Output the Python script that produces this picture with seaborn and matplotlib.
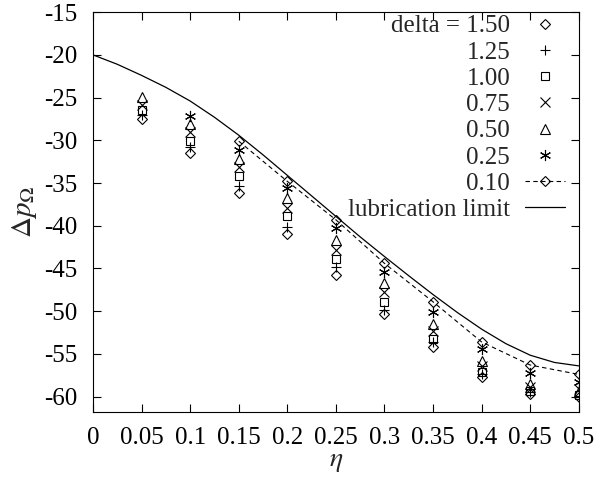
import numpy as np
import pandas as pd
import matplotlib
matplotlib.use("Agg")
import matplotlib.pyplot as plt
import seaborn as sns

sns.set_theme(style="ticks")
plt.rcParams["font.family"] = ["Liberation Serif", "DejaVu Serif"]
plt.rcParams["mathtext.fontset"] = "stix"
plt.rcParams["axes.unicode_minus"] = False

# ========== data ==========
eta = [0.05, 0.10, 0.15, 0.20, 0.25, 0.30, 0.35, 0.40, 0.45, 0.50]
p_150 = [-27.5, -31.5, -36.2, -41.0, -45.8, -50.3, -54.2, -57.7, -59.7, -60.1]
p_125 = [-27.0, -30.8, -35.3, -40.1, -44.8, -49.9, -53.6, -57.4, -59.5, -60.0]
p_100 = [-26.4, -30.1, -34.2, -38.9, -43.9, -48.9, -53.3, -57.1, -59.3, -59.8]
p_075 = [-25.9, -29.0, -33.1, -37.9, -42.8, -47.8, -52.3, -56.4, -58.9, -59.1]
p_050 = [-24.9, -28.1, -32.2, -36.7, -41.7, -46.7, -51.5, -55.8, -58.5, -59.3]
eta_025 = eta[1:]
p_025 = [-27.1, -31.1, -35.6, -40.3, -45.4, -50.1, -54.4, -57.2, -58.3]
eta_010 = eta[2:]
p_010 = [-30.1, -34.8, -39.3, -44.4, -48.9, -53.6, -56.3, -57.4]

eta_lub = [0.0, 0.025, 0.05, 0.075, 0.10, 0.125, 0.15, 0.175, 0.20, 0.225, 0.25,
           0.275, 0.30, 0.325, 0.35, 0.375, 0.40, 0.425, 0.45, 0.475, 0.50]
p_lub = [-20.0, -21.1, -22.4, -23.8, -25.4, -27.3, -29.4, -31.7, -34.1, -36.5, -38.9,
         -41.3, -43.6, -45.85, -48.05, -50.15, -52.1, -53.8, -55.15, -56.0, -56.4]

series = [
    ("delta = 1.50", eta, p_150, "D", 5.0),
    ("1.25", eta, p_125, "+", 7.5),
    ("1.00", eta, p_100, "s", 6.0),
    ("0.75", eta, p_075, "x", 6.5),
    ("0.50", eta, p_050, "^", 6.5),
    ("0.25", eta_025, p_025, (6, 2, 0), 8.0),
]

fig = plt.figure(figsize=(6.06, 4.87), dpi=100)
ax = fig.add_axes([0.1535, 0.154, 0.8015, 0.821])

for lab, xs, ys, mk, ms in series:
    sns.lineplot(x=xs, y=ys, ax=ax, color="black", marker=mk, markersize=ms,
                 linestyle="none", markerfacecolor="none", markeredgecolor="black",
                 markeredgewidth=0.8, sort=False, estimator=None, label=lab)

sns.lineplot(x=eta_010, y=p_010, ax=ax, color="black", marker="D", markersize=5.0,
             markerfacecolor="none", markeredgecolor="black", markeredgewidth=0.8,
             linestyle=(0, (4, 3)), linewidth=0.8, sort=False, estimator=None, label="0.10")
sns.lineplot(x=eta_lub, y=p_lub, ax=ax, color="black", linewidth=0.9,
             sort=False, estimator=None, label="lubrication limit")

ax.set_xlim(0, 0.5)
ax.set_ylim(-61.8, -15)
ax.set_xticks(np.arange(0, 0.51, 0.05))
ax.set_xticklabels(["0", "0.05", "0.1", "0.15", "0.2", "0.25", "0.3", "0.35", "0.4", "0.45", "0.5"])
ax.set_yticks(np.arange(-60, -14, 5))
ax.tick_params(direction="in", length=6, width=0.8, top=True, right=True,
               labelsize=18, color="black", labelcolor="black")
ax.tick_params(axis="x", pad=11)
ax.tick_params(axis="y", pad=11)
for sp in ax.spines.values():
    sp.set_linewidth(0.8)
    sp.set_color("black")

ax.set_xlabel(r"$\eta$", fontsize=20, labelpad=0)
ax.set_ylabel(r"$\Delta p_\Omega$", fontsize=21, labelpad=4)

leg = ax.legend(loc="upper right", bbox_to_anchor=(0.972, 0.993), frameon=False,
                markerfirst=False, fontsize=18, handlelength=1.6, handletextpad=0.6,
                labelspacing=0.15, borderaxespad=0, borderpad=0)
leg._legend_box._children[-1]._children[0].align = "right"

fig.savefig("out.png", dpi=100)
